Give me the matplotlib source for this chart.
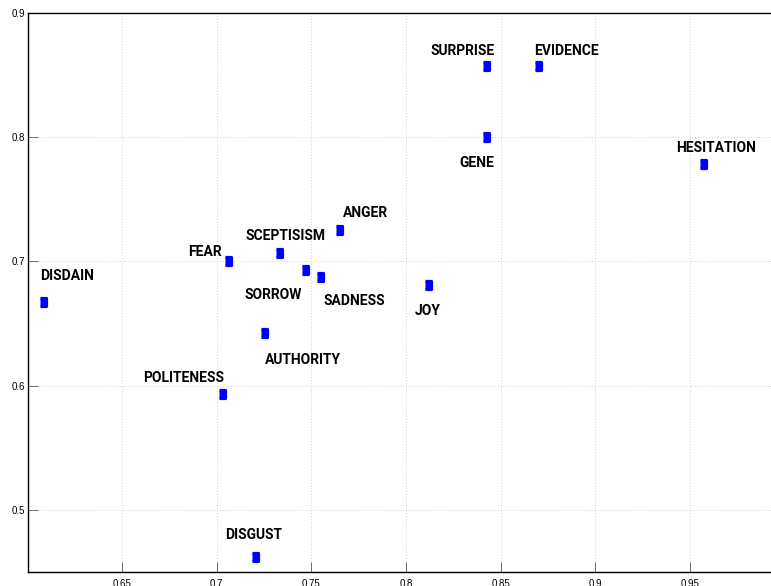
import matplotlib
matplotlib.use('Agg')
import matplotlib.pyplot as plt

# ── 資料 ──────────────────────────────────────────────
labels = ['DISDAIN', 'POLITENESS', 'DISGUST', 'FEAR', 'SCEPTISISM', 'SORROW',
          'SADNESS', 'ANGER', 'AUTHORITY', 'JOY', 'GENE', 'SURPRISE',
          'EVIDENCE', 'HESITATION']
x_vals = [0.608, 0.703, 0.720, 0.706, 0.733, 0.7465,
          0.7546, 0.7648, 0.725, 0.8117, 0.8423, 0.8423,
          0.8698, 0.957]
y_vals = [0.667, 0.593, 0.462, 0.7006, 0.7064, 0.6928,
          0.6877, 0.7249, 0.6422, 0.6813, 0.8002, 0.8572,
          0.8572, 0.7785]

# 標籤位移（像素，左下對齊）
label_offsets = [(-3, 22), (-79, 12), (-29, 18), (-40, 5), (-34, 13), (-60, -29),
                 (3, -28), (4, 13), (1, -31), (-13, -30), (-27, -30), (-56, 11),
                 (-4, 11), (-27, 12)]

xticks = [0.65, 0.7, 0.75, 0.8, 0.85, 0.9, 0.95]
yticks = [0.5, 0.6, 0.7, 0.8, 0.9]

LABEL_FONT = ['Roboto', 'Liberation Sans', 'DejaVu Sans']
plt.rcParams['font.family'] = ['Liberation Sans', 'DejaVu Sans']

fig = plt.figure(figsize=(7.71, 5.86), dpi=100)
ax = fig.add_axes([27.5 / 771, 14 / 586, 757 / 771, 559.3 / 586])

box = [(-0.74, -1), (0.74, -1), (0.74, 1), (-0.74, 1)]
ax.plot(x_vals, y_vals, linestyle='none', marker=box, markersize=6.2,
        color='#0000ff', markeredgecolor='#0000ff', markeredgewidth=2.3,
        clip_on=False)

for name, x, y, (dx, dy) in zip(labels, x_vals, y_vals, label_offsets):
    ax.annotate(name, (x, y), xytext=(dx, dy), textcoords='offset pixels',
                ha='left', va='baseline', fontsize=10, fontweight='bold',
                family=LABEL_FONT)

ax.set_xlim(0.6, 1.0)
ax.set_ylim(0.45, 0.9)
ax.set_xticks(xticks)
ax.set_yticks(yticks)
ax.set_xticklabels([f'{t:g}' for t in xticks])
ax.set_yticklabels([f'{t:g}' for t in yticks])
ax.tick_params(direction='in', length=7, width=0.6, labelsize=7,
               top=False, right=False, color='#555555')
ax.tick_params(axis='x', pad=5)
ax.tick_params(axis='y', pad=2)
ax.grid(True, linestyle=(0, (1, 3)), color='#aaaaaa', linewidth=0.5)
for s in ax.spines.values():
    s.set_linewidth(1.0)

plt.savefig('out.png', dpi=100)
